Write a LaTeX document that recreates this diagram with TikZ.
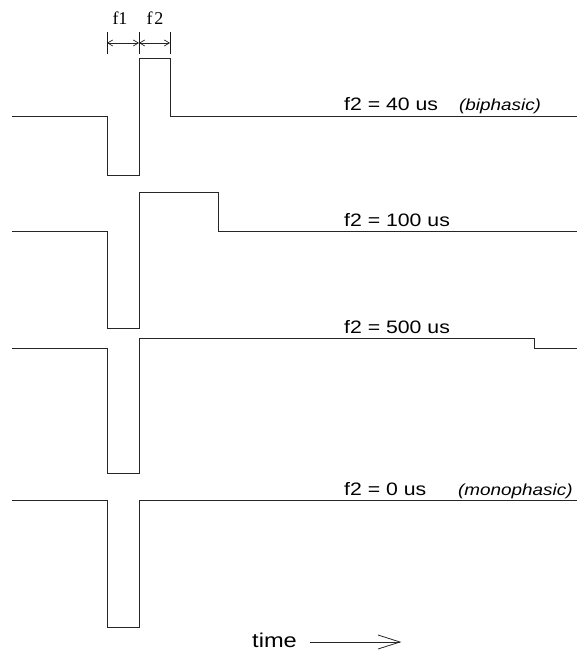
\documentclass[tikz,border=0pt]{standalone}
\usepackage{fontspec}
\setmainfont{Liberation Serif}
\newfontfamily\labfont[FakeStretch=1.18]{Liberation Sans}
\usetikzlibrary{arrows.meta}
\tikzset{
  trace/.style={line width=0.9pt, black!85, line join=miter},
  lab/.style={anchor=base west, inner sep=0pt, font=\labfont\fontsize{18}{20}\selectfont},
  ital/.style={anchor=base west, inner sep=0pt, font=\labfont\itshape\fontsize{16}{18}\selectfont},
  flab/.style={anchor=base, inner sep=0pt, font=\fontsize{18}{20}\selectfont},
  tick/.style={line width=0.9pt, black!90},
  dim/.style={line width=0.7pt, black!85, {Straight Barb[length=5pt,width=6pt]}-{Straight Barb[length=5pt,width=6pt]}}
}
\begin{document}
\begin{tikzpicture}[x=1pt,y=-1pt]
\useasboundingbox (0,0) rectangle (577,652);
% trace 1: biphasic, f2 = 40 us
\draw[trace] (12,116) -- (107,116) -- (107,175) -- (139,175) -- (139,58) -- (170,58) -- (170,116) -- (577,116);
% trace 2: f2 = 100 us
\draw[trace] (12,231) -- (107,231) -- (107,328) -- (139,328) -- (139,192) -- (218,192) -- (218,231) -- (577,231);
% trace 3: f2 = 500 us
\draw[trace] (12,348) -- (107,348) -- (107,473) -- (139,473) -- (139,338) -- (534,338) -- (534,348) -- (577,348);
% trace 4: monophasic
\draw[trace] (12,500) -- (107,500) -- (107,627) -- (139,627) -- (139,500) -- (577,500);
% dimension marks
\coordinate (t1) at (107,43);
\coordinate (t2) at (139,43);
\coordinate (t3) at (170,43);
\draw[tick] (107,32) -- (107,54);
\draw[tick] (139,32) -- (139,54);
\draw[tick] (170,32) -- (170,54);
\draw[dim] (t1) -- (t2);
\draw[dim] (t2) -- (t3);
\node[flab] (fa) at (120,25) {f1};
\node[flab] (fb) at (155,25) {f\kern2pt 2};
% labels
\node[lab] (l1) at (344,111) {f2 = 40 us};
\node[ital] (i1) at (459,111) {(biphasic)};
\node[lab] (l2) at (344,226) {f2 = 100 us};
\node[lab] (l3) at (344,333) {f2 = 500 us};
\node[lab] (l4) at (344,495) {f2 = 0 us};
\node[ital] (i4) at (458,495) {(monophasic)};
% time axis
\node[lab, font=\labfont\fontsize{20}{22}\selectfont] (time) at (252,647) {time};
\coordinate (a0) at (310,642);
\coordinate (a1) at (400,642);
\draw[line width=0.8pt, black!85] (a0) -- (a1);
\draw[line width=0.8pt, black!85] (378,635) -- (a1) -- (378,649);
\end{tikzpicture}
\end{document}
